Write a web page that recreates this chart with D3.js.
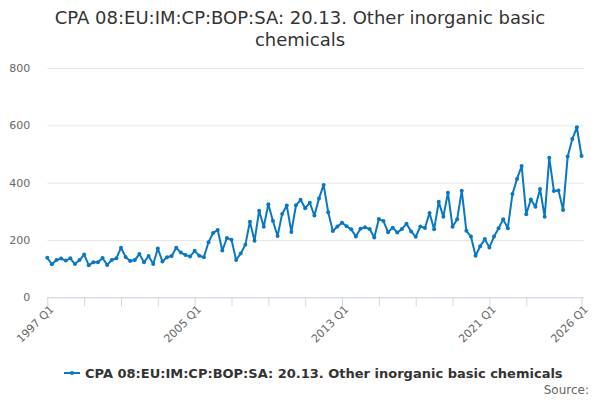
<!DOCTYPE html>
<html>
<head>
<meta charset="utf-8">
<script src="https://cdn.jsdelivr.net/npm/d3@7"></script>
<style>
  body { margin: 0; background: #fff; }
  svg { font-family: "DejaVu Sans", sans-serif; }
</style>
</head>
<body>
<div id="chart"></div>
<script>
const seriesName = "CPA 08:EU:IM:CP:BOP:SA: 20.13. Other inorganic basic chemicals";
const titleLines = ["CPA 08:EU:IM:CP:BOP:SA: 20.13. Other inorganic basic", "chemicals"];

const startYear = 1997;
const values = [
  138, 115, 130, 135, 128, 136, 116, 130, 149, 112,
  122, 122, 137, 113, 130, 136, 173, 141, 127, 130,
  151, 122, 144, 116, 170, 125, 140, 144, 173, 156,
  148, 142, 162, 145, 140, 192, 224, 235, 163, 207,
  201, 130, 153, 183, 264, 197, 302, 246, 325, 266,
  214, 291, 320, 228, 321, 340, 311, 330, 285, 345,
  392, 297, 231, 247, 260, 248, 237, 212, 239, 244,
  238, 209, 273, 266, 227, 243, 226, 238, 257, 230,
  211, 247, 242, 294, 237, 333, 281, 365, 246, 272,
  372, 232, 212, 145, 178, 203, 174, 212, 241, 272,
  241, 360, 413, 458, 290, 341, 316, 378, 281, 487,
  371, 373, 305, 491, 552, 593, 493
];
const quarters = values.map((v, i) => (startYear + Math.floor(i / 4)) + " Q" + (i % 4 + 1));
const tickLabels = ["1997 Q1", "2005 Q1", "2013 Q1", "2021 Q1", "2026 Q1"];
const yTicks = [0, 200, 400, 600, 800];

const data = quarters.map((q, i) => ({ q: q, v: values[i] }));

const width = 600, height = 400;
const plotLeft = 47.3, plotRight = 581.5, plotTop = 68, plotBottom = 297.3;
const lineColor = "#0a78c0";

const svg = d3.select("#chart").append("svg")
  .attr("width", width)
  .attr("height", height);

const x = d3.scalePoint().domain(quarters).range([plotLeft, plotRight]);
const y = d3.scaleLinear().domain([0, 800]).range([plotBottom, plotTop]);

// title
svg.append("text")
  .attr("x", 300)
  .attr("text-anchor", "middle")
  .attr("fill", "#333")
  .style("font-size", "18px")
  .selectAll("tspan")
  .data(titleLines)
  .enter().append("tspan")
  .attr("x", 300)
  .attr("y", (d, i) => 24 + i * 22)
  .text(d => d);

// grid + y labels
const yAxis = svg.append("g")
  .attr("transform", "translate(" + plotLeft + ",0)")
  .call(d3.axisLeft(y).tickValues(yTicks).tickSize(-(plotRight - plotLeft + 2)).tickPadding(17));
yAxis.select(".domain").remove();
yAxis.selectAll(".tick line").attr("stroke", "#e6e6e6");
yAxis.selectAll(".tick text")
  .attr("fill", "#666")
  .style("font-size", "11px")
  .style("font-family", "DejaVu Sans");

// x axis: ticks every 8 quarters plus the last one
const tickQuarters = quarters.filter((q, i) => i % 8 === 0 && i < quarters.length - 8)
  .concat([quarters[quarters.length - 1]]);
const xAxis = svg.append("g")
  .attr("transform", "translate(0," + plotBottom + ")")
  .call(d3.axisBottom(x).tickValues(tickQuarters).tickSizeOuter(0).tickSize(9)
    .tickFormat(d => tickLabels.includes(d) ? d : ""));
xAxis.select(".domain").attr("stroke", "#ccd6eb").attr("d", "M" + plotLeft + ",0.5H" + (plotRight + 2));
xAxis.selectAll(".tick line").attr("stroke", "#ccd6eb");
xAxis.selectAll(".tick text")
  .attr("fill", "#666")
  .style("font-size", "11px")
  .style("font-family", "DejaVu Sans")
  .attr("text-anchor", "end")
  .attr("transform", "translate(4,10) rotate(-45)")
  .attr("dy", "0.35em")
  .attr("y", 0)
  .attr("x", 0);

// line
const line = d3.line().x(d => x(d.q)).y(d => y(d.v));
svg.append("path")
  .datum(data)
  .attr("fill", "none")
  .attr("stroke", lineColor)
  .attr("stroke-width", 2)
  .attr("stroke-linejoin", "round")
  .attr("d", line);

svg.append("g").selectAll("circle")
  .data(data)
  .enter().append("circle")
  .attr("cx", d => x(d.q))
  .attr("cy", d => y(d.v))
  .attr("r", 2)
  .attr("fill", lineColor);

// legend
const legend = svg.append("g").attr("transform", "translate(64,373)");
legend.append("line")
  .attr("x1", 0).attr("x2", 16)
  .attr("stroke", lineColor).attr("stroke-width", 2);
legend.append("circle").attr("cx", 8).attr("r", 2).attr("fill", lineColor);
legend.append("text")
  .attr("x", 21)
  .attr("y", 5)
  .attr("fill", "#333")
  .style("font-size", "13px")
  .style("font-weight", "bold")
  .text(seriesName);

svg.append("text")
  .attr("x", 589)
  .attr("y", 394)
  .attr("text-anchor", "end")
  .attr("fill", "#666")
  .style("font-size", "12px")
  .text("Source:");
</script>
</body>
</html>
